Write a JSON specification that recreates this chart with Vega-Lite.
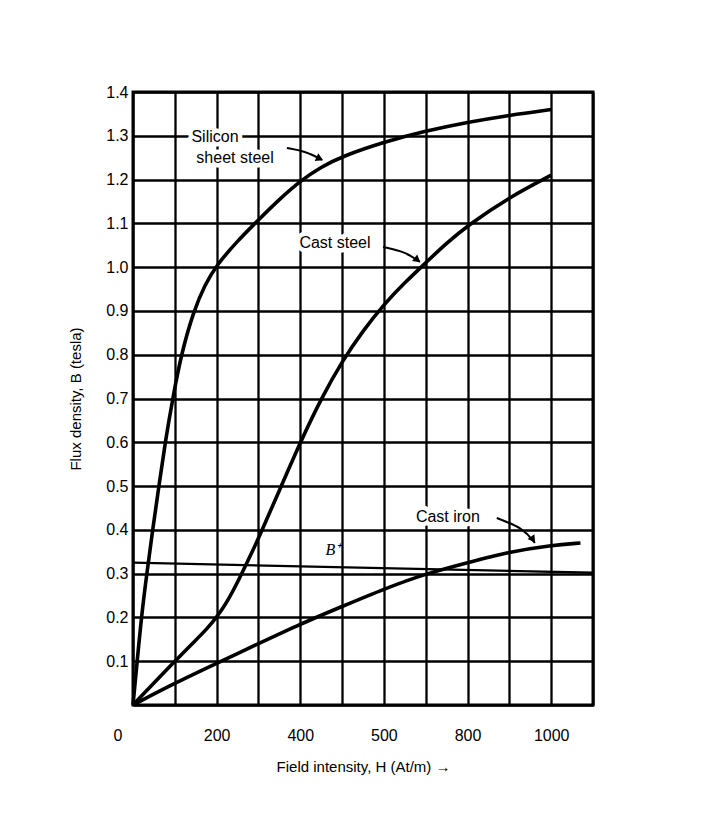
{
  "$schema": "https://vega.github.io/schema/vega-lite/v6.json",
  "width": 460,
  "height": 613,
  "autosize": "none",
  "padding": {"left": 133, "top": 92, "right": 124, "bottom": 125},
  "background": "white",
  "config": {"view": {"stroke": "black", "strokeWidth": 3}, "font": "Liberation Sans"},
  "datasets": {
    "curves": [
      {"material": "Silicon sheet steel", "H": 0, "B": 0},
      {"material": "Silicon sheet steel", "H": 10, "B": 0.1},
      {"material": "Silicon sheet steel", "H": 20, "B": 0.2},
      {"material": "Silicon sheet steel", "H": 33, "B": 0.3},
      {"material": "Silicon sheet steel", "H": 47, "B": 0.4},
      {"material": "Silicon sheet steel", "H": 62, "B": 0.5},
      {"material": "Silicon sheet steel", "H": 77, "B": 0.6},
      {"material": "Silicon sheet steel", "H": 95, "B": 0.7},
      {"material": "Silicon sheet steel", "H": 115, "B": 0.8},
      {"material": "Silicon sheet steel", "H": 145, "B": 0.9},
      {"material": "Silicon sheet steel", "H": 172, "B": 0.96},
      {"material": "Silicon sheet steel", "H": 200, "B": 1.005},
      {"material": "Silicon sheet steel", "H": 250, "B": 1.06},
      {"material": "Silicon sheet steel", "H": 300, "B": 1.108},
      {"material": "Silicon sheet steel", "H": 350, "B": 1.155},
      {"material": "Silicon sheet steel", "H": 400, "B": 1.197},
      {"material": "Silicon sheet steel", "H": 450, "B": 1.229},
      {"material": "Silicon sheet steel", "H": 500, "B": 1.253},
      {"material": "Silicon sheet steel", "H": 600, "B": 1.286},
      {"material": "Silicon sheet steel", "H": 700, "B": 1.311},
      {"material": "Silicon sheet steel", "H": 800, "B": 1.331},
      {"material": "Silicon sheet steel", "H": 900, "B": 1.347},
      {"material": "Silicon sheet steel", "H": 1000, "B": 1.36},
      {"material": "Cast steel", "H": 0, "B": 0},
      {"material": "Cast steel", "H": 50, "B": 0.05},
      {"material": "Cast steel", "H": 100, "B": 0.1},
      {"material": "Cast steel", "H": 150, "B": 0.148},
      {"material": "Cast steel", "H": 175, "B": 0.172},
      {"material": "Cast steel", "H": 200, "B": 0.2},
      {"material": "Cast steel", "H": 225, "B": 0.235},
      {"material": "Cast steel", "H": 250, "B": 0.28},
      {"material": "Cast steel", "H": 275, "B": 0.33},
      {"material": "Cast steel", "H": 300, "B": 0.38},
      {"material": "Cast steel", "H": 350, "B": 0.49},
      {"material": "Cast steel", "H": 400, "B": 0.6},
      {"material": "Cast steel", "H": 450, "B": 0.7},
      {"material": "Cast steel", "H": 500, "B": 0.785},
      {"material": "Cast steel", "H": 550, "B": 0.855},
      {"material": "Cast steel", "H": 600, "B": 0.915},
      {"material": "Cast steel", "H": 650, "B": 0.965},
      {"material": "Cast steel", "H": 700, "B": 1.01},
      {"material": "Cast steel", "H": 750, "B": 1.055},
      {"material": "Cast steel", "H": 800, "B": 1.095},
      {"material": "Cast steel", "H": 900, "B": 1.16},
      {"material": "Cast steel", "H": 1000, "B": 1.21},
      {"material": "Cast iron", "H": 0, "B": 0},
      {"material": "Cast iron", "H": 100, "B": 0.05},
      {"material": "Cast iron", "H": 200, "B": 0.095},
      {"material": "Cast iron", "H": 300, "B": 0.14},
      {"material": "Cast iron", "H": 400, "B": 0.185},
      {"material": "Cast iron", "H": 500, "B": 0.225},
      {"material": "Cast iron", "H": 600, "B": 0.265},
      {"material": "Cast iron", "H": 700, "B": 0.3},
      {"material": "Cast iron", "H": 800, "B": 0.325},
      {"material": "Cast iron", "H": 900, "B": 0.35},
      {"material": "Cast iron", "H": 1000, "B": 0.365},
      {"material": "Cast iron", "H": 1070, "B": 0.37}
    ],
    "stray": [
      {"H": 0, "B": 0.325},
      {"H": 1100, "B": 0.302}
    ],
    "arrows": [
      {"id": "silicon", "H": 368, "B": 1.272, "k": 0},
      {"id": "silicon", "H": 411, "B": 1.265, "k": 1},
      {"id": "silicon", "H": 452, "B": 1.245, "k": 2},
      {"id": "caststeel", "H": 598, "B": 1.046, "k": 0},
      {"id": "caststeel", "H": 651, "B": 1.035, "k": 1},
      {"id": "caststeel", "H": 686, "B": 1.012, "k": 2},
      {"id": "castiron", "H": 870, "B": 0.427, "k": 0},
      {"id": "castiron", "H": 933, "B": 0.404, "k": 1},
      {"id": "castiron", "H": 961, "B": 0.37, "k": 2}
    ],
    "heads": [
      {"id": "silicon", "H": 444, "B": 1.249},
      {"id": "caststeel", "H": 678, "B": 1.018},
      {"id": "castiron", "H": 955, "B": 0.38}
    ],
    "labels": [
      {"text": "Silicon", "H": 196, "B": 1.297},
      {"text": "sheet steel", "H": 244, "B": 1.249},
      {"text": "Cast steel", "H": 483, "B": 1.055},
      {"text": "Cast iron", "H": 753, "B": 0.429}
    ],
    "bplus": [
      {"text": "B⁺", "H": 478, "B": 0.354}
    ]
  },
  "layer": [
    {
      "data": {"name": "labels"},
      "mark": {"type": "text", "fontSize": 16, "stroke": "white", "strokeWidth": 9, "fill": "white", "strokeJoin": "round"},
      "encoding": {
        "x": {"field": "H", "type": "quantitative", "scale": {"domain": [0, 1100], "nice": false},
          "axis": {
            "values": [0, 100, 200, 300, 400, 500, 600, 700, 800, 900, 1000, 1100],
            "grid": true, "gridColor": "black", "gridWidth": 2.3, "gridOpacity": 1,
            "domain": false, "ticks": false,
            "labelExpr": "datum.value == 600 ? '500' : (datum.value % 200 == 0 ? format(datum.value, 'd') : '')",
            "labelFontSize": 16, "labelColor": "black", "labelPadding": 22,
            "labelOffset": {"condition": {"test": "datum.value === 0", "value": -20}, "value": 0},
            "title": "Field intensity, H (At/m)   →", "titleFontSize": 15, "titleFontWeight": "normal",
            "titleColor": "black", "titlePadding": 16
          }},
        "y": {"field": "B", "type": "quantitative", "scale": {"domain": [0, 1.4], "nice": false},
          "axis": {
            "values": [0, 0.1, 0.2, 0.3, 0.4, 0.5, 0.6, 0.7, 0.8, 0.9, 1.0, 1.1, 1.2, 1.3, 1.4],
            "grid": true, "gridColor": "black", "gridWidth": 2.3, "gridOpacity": 1,
            "domain": false, "ticks": false,
            "labelExpr": "datum.value == 0 ? '' : format(datum.value, '.1f')",
            "labelFontSize": 16, "labelColor": "black", "labelPadding": 5,
            "title": "Flux density, B (tesla)", "titleFontSize": 15, "titleFontWeight": "normal",
            "titleColor": "black", "titlePadding": 22
          }},
        "text": {"field": "text"}
      }
    },
    {
      "data": {"name": "curves"},
      "mark": {"type": "line", "color": "black", "strokeWidth": 3.6, "interpolate": "basis"},
      "encoding": {
        "x": {"field": "H", "type": "quantitative"},
        "y": {"field": "B", "type": "quantitative"},
        "detail": {"field": "material"}
      }
    },
    {
      "data": {"name": "stray"},
      "mark": {"type": "line", "color": "black", "strokeWidth": 2.3},
      "encoding": {
        "x": {"field": "H", "type": "quantitative"},
        "y": {"field": "B", "type": "quantitative"}
      }
    },
    {
      "data": {"name": "arrows"},
      "mark": {"type": "line", "color": "black", "strokeWidth": 2, "interpolate": "basis"},
      "encoding": {
        "x": {"field": "H", "type": "quantitative"},
        "y": {"field": "B", "type": "quantitative"},
        "detail": {"field": "id"},
        "order": {"field": "k"}
      }
    },
    {
      "data": {"name": "heads"},
      "transform": [{"filter": "datum.id == 'silicon'"}],
      "mark": {"type": "point", "shape": "triangle", "filled": true, "color": "black", "size": 70, "angle": 115, "opacity": 1},
      "encoding": {
        "x": {"field": "H", "type": "quantitative"},
        "y": {"field": "B", "type": "quantitative"}
      }
    },
    {
      "data": {"name": "heads"},
      "transform": [{"filter": "datum.id == 'caststeel'"}],
      "mark": {"type": "point", "shape": "triangle", "filled": true, "color": "black", "size": 70, "angle": 128, "opacity": 1},
      "encoding": {
        "x": {"field": "H", "type": "quantitative"},
        "y": {"field": "B", "type": "quantitative"}
      }
    },
    {
      "data": {"name": "heads"},
      "transform": [{"filter": "datum.id == 'castiron'"}],
      "mark": {"type": "point", "shape": "triangle", "filled": true, "color": "black", "size": 70, "angle": 145, "opacity": 1},
      "encoding": {
        "x": {"field": "H", "type": "quantitative"},
        "y": {"field": "B", "type": "quantitative"}
      }
    },
    {
      "data": {"name": "labels"},
      "mark": {"type": "text", "fontSize": 16, "color": "black"},
      "encoding": {
        "x": {"field": "H", "type": "quantitative"},
        "y": {"field": "B", "type": "quantitative"},
        "text": {"field": "text"}
      }
    },
    {
      "data": {"name": "bplus"},
      "mark": {"type": "text", "fontSize": 16, "fontStyle": "italic", "font": "Liberation Serif", "color": "black"},
      "encoding": {
        "x": {"field": "H", "type": "quantitative"},
        "y": {"field": "B", "type": "quantitative"},
        "text": {"field": "text"}
      }
    }
  ]
}
